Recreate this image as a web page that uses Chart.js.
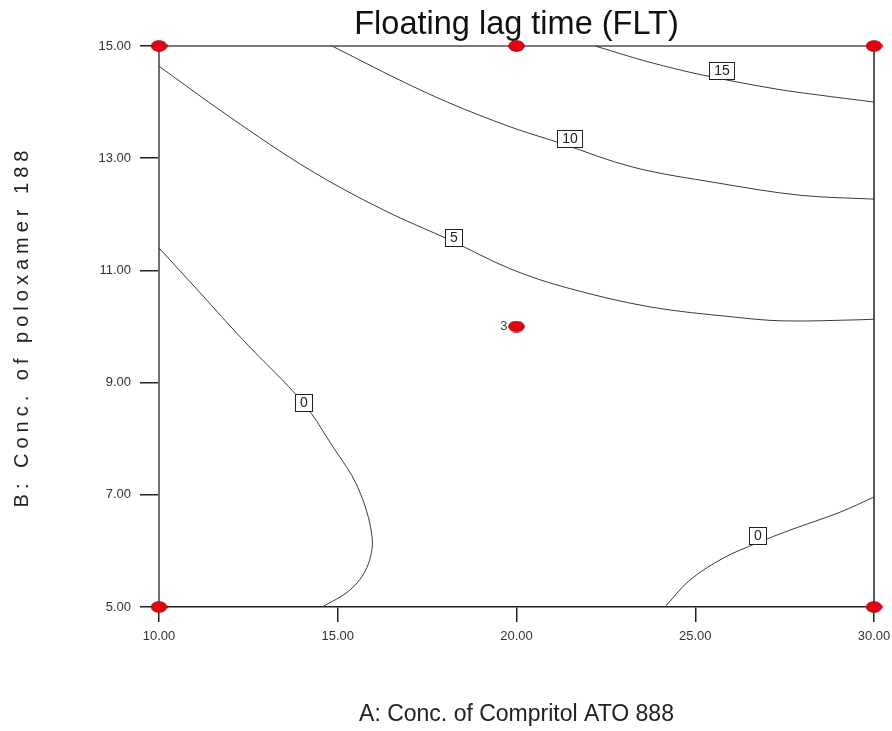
<!DOCTYPE html>
<html>
<head>
<meta charset="utf-8">
<script src="https://cdn.jsdelivr.net/npm/chart.js@4.4.1/dist/chart.umd.min.js"></script>
<style>
  html, body { margin: 0; padding: 0; background: #ffffff; }
  #c { display: block; }
</style>
</head>
<body>
<canvas id="c" width="892" height="731"></canvas>
<script>
// ---------- data ----------
const chartTitle = 'Floating lag time (FLT)';
const xAxisTitle = 'A: Conc. of Compritol ATO 888';
const yAxisTitle = 'B: Conc. of poloxamer 188';

const xTicks = [10, 15, 20, 25, 30];
const yTicks = [5, 7, 9, 11, 13, 15];

// design points
const designA = [10, 10, 20, 30, 30, 20];
const designB = [5, 15, 15, 15, 5, 10];
const replicateA = [20];
const replicateB = [10];
const replicateText = ['3'];

// contour lines (A, B)
const c0LeftA = [10.0, 11.15, 12.35, 14.03, 14.87, 15.55, 15.96, 15.82, 15.34, 14.56];
const c0LeftB = [11.40, 10.60, 9.76, 8.64, 7.85, 7.15, 6.25, 5.71, 5.30, 5.0];

const c0RightA = [24.15, 24.85, 25.78, 26.73, 27.65, 29.05, 30.0];
const c0RightB = [5.0, 5.48, 5.87, 6.14, 6.37, 6.69, 6.96];

const c5A = [10.0, 11.99, 14.22, 16.27, 18.14, 19.82, 21.41, 23.73, 26.06, 27.45, 29.61, 30.0];
const c5B = [14.64, 13.73, 12.79, 12.08, 11.54, 11.03, 10.69, 10.35, 10.17, 10.10, 10.12, 10.13];

const c10A = [14.84, 16.74, 18.14, 19.82, 21.22, 23.26, 25.61, 27.93, 30.0];
const c10B = [15.0, 14.39, 13.98, 13.56, 13.27, 12.84, 12.56, 12.34, 12.27];

const c15A = [22.20, 23.73, 25.22, 27.29, 28.41, 30.0];
const c15B = [15.0, 14.71, 14.48, 14.23, 14.13, 14.0];

// contour labels
const labelText = ['0', '0', '5', '10', '15'];
const labelA = [14.03, 26.75, 18.25, 21.47, 25.74];
const labelB = [8.64, 6.28, 11.58, 13.35, 14.57];

// ---------- helpers ----------
const pts = (a, b) => a.map((v, i) => ({ x: v, y: b[i] }));

// ellipse marker
const marker = document.createElement('canvas');
marker.width = 17; marker.height = 12;
(function () {
  const m = marker.getContext('2d');
  m.beginPath();
  m.ellipse(8.5, 6, 7.8, 5.3, 0, 0, Math.PI * 2);
  m.fillStyle = '#e60012';
  m.fill();
  m.lineWidth = 1;
  m.strokeStyle = '#a8000a';
  m.stroke();
})();

const lineStyle = {
  type: 'scatter',
  showLine: true,
  pointRadius: 0,
  pointHoverRadius: 0,
  borderColor: '#3a3a3a',
  borderWidth: 1,
  tension: 0.35,
  fill: false
};

const framePlugin = {
  id: 'frame',
  beforeDatasetsDraw(chart) {
    const { ctx, chartArea: a } = chart;
    ctx.save();
    ctx.lineCap = 'butt';
    ctx.strokeStyle = '#7a7a7a';
    ctx.lineWidth = 2;
    ctx.beginPath();
    ctx.moveTo(a.left, a.top);
    ctx.lineTo(a.right, a.top);
    ctx.stroke();
    ctx.strokeStyle = '#222';
    ctx.lineWidth = 1.5;
    ctx.beginPath();
    ctx.moveTo(a.right, a.top);
    ctx.lineTo(a.right, a.bottom);
    ctx.stroke();
    ctx.restore();
  },
  afterDatasetsDraw(chart) {
    const { ctx } = chart;
    const xs = chart.scales.x, ys = chart.scales.y;
    ctx.save();
    ctx.font = '14px "Liberation Sans", Arial, sans-serif';
    ctx.textAlign = 'center';
    ctx.textBaseline = 'middle';
    labelText.forEach((t, i) => {
      const px = xs.getPixelForValue(labelA[i]);
      const py = ys.getPixelForValue(labelB[i]);
      const w = Math.round(ctx.measureText(t).width + 9);
      const h = 17;
      const x0 = Math.round(px - w / 2), y0 = Math.round(py - h / 2);
      ctx.fillStyle = '#ffffff';
      ctx.fillRect(x0, y0, w, h);
      ctx.strokeStyle = '#222';
      ctx.lineWidth = 1;
      ctx.strokeRect(x0 + 0.5, y0 + 0.5, w, h);
      ctx.fillStyle = '#222';
      ctx.fillText(t, x0 + w / 2 + 0.5, y0 + h / 2 + 1);
    });
    // replicate count
    ctx.font = '13px "Liberation Sans", Arial, sans-serif';
    ctx.fillStyle = '#444';
    ctx.textAlign = 'right';
    replicateText.forEach((t, i) => {
      const px = xs.getPixelForValue(replicateA[i]);
      const py = ys.getPixelForValue(replicateB[i]);
      ctx.fillText(t, px - 9, py);
    });
    ctx.restore();
  },
  afterDraw(chart) {
    const { ctx, chartArea: a } = chart;
    ctx.save();
    ctx.translate(22, (a.top + a.bottom) / 2);
    ctx.rotate(-Math.PI / 2);
    ctx.font = '20px "Liberation Sans", Arial, sans-serif';
    ctx.letterSpacing = '5px';
    ctx.fillStyle = '#222';
    ctx.textAlign = 'center';
    ctx.textBaseline = 'middle';
    ctx.fillText(yAxisTitle, 0, 0);
    ctx.restore();
  }
};

new Chart(document.getElementById('c'), {
  type: 'scatter',
  data: {
    datasets: [
      {
        type: 'scatter',
        data: pts(designA, designB),
        pointStyle: marker,
        pointRadius: 8,
        pointHoverRadius: 8,
        clip: false,
        showLine: false
      },
      Object.assign({ data: pts(c0LeftA, c0LeftB) }, lineStyle),
      Object.assign({ data: pts(c0RightA, c0RightB) }, lineStyle),
      Object.assign({ data: pts(c5A, c5B) }, lineStyle),
      Object.assign({ data: pts(c10A, c10B) }, lineStyle),
      Object.assign({ data: pts(c15A, c15B) }, lineStyle)
    ]
  },
  options: {
    responsive: false,
    animation: false,
    devicePixelRatio: 1,
    events: [],
    layout: { padding: { left: 0, right: 18, top: 0, bottom: 0 } },
    plugins: {
      legend: { display: false },
      tooltip: { enabled: false },
      title: {
        display: true,
        text: chartTitle,
        fullSize: false,
        color: '#111',
        font: { family: '"Liberation Sans", Arial, sans-serif', size: 32.5, weight: 'normal', lineHeight: 1.2 },
        padding: { top: 6, bottom: 1 }
      }
    },
    scales: {
      x: {
        type: 'linear',
        min: 10, max: 30,
        afterFit(s) { s.height = 124; s.paddingLeft = 0; s.paddingRight = 0; },
        afterBuildTicks(s) { s.ticks = xTicks.map(v => ({ value: v })); },
        grid: { drawOnChartArea: false, drawTicks: true, tickLength: 15, color: '#222', lineWidth: 1.5 },
        border: { display: true, color: '#222', width: 1.5 },
        ticks: {
          autoSkip: false, maxRotation: 0, padding: 7,
          color: '#333',
          font: { family: '"Liberation Sans", Arial, sans-serif', size: 13 },
          callback: v => Number(v).toFixed(2)
        },
        title: {
          display: true,
          text: xAxisTitle,
          color: '#222',
          font: { family: '"Liberation Sans", Arial, sans-serif', size: 23 },
          padding: { top: 0, bottom: 3 }
        }
      },
      y: {
        type: 'linear',
        min: 5, max: 15,
        afterFit(s) { s.width = 159; s.paddingTop = 0; s.paddingBottom = 0; },
        afterBuildTicks(s) { s.ticks = yTicks.map(v => ({ value: v })); },
        grid: { drawOnChartArea: false, drawTicks: true, tickLength: 19, color: '#222', lineWidth: 1.5 },
        border: { display: true, color: '#707070', width: 2 },
        ticks: {
          autoSkip: false, padding: 9,
          color: '#333',
          font: { family: '"Liberation Sans", Arial, sans-serif', size: 13 },
          callback: v => Number(v).toFixed(2)
        }
      }
    }
  },
  plugins: [framePlugin]
});
</script>
</body>
</html>
